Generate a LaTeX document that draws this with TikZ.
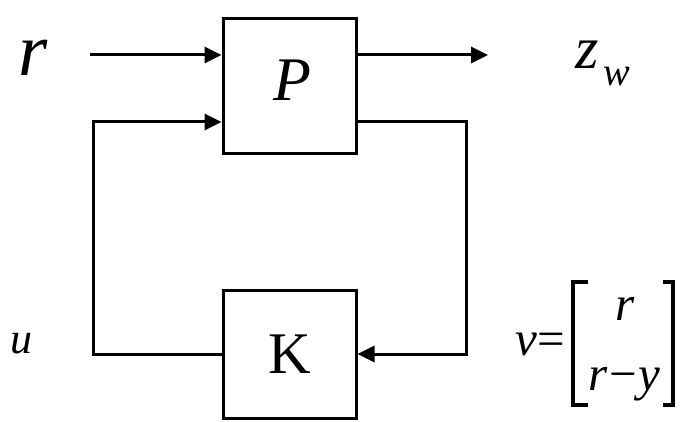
\documentclass[tikz,border=0pt]{standalone}
\usepackage{fontspec}
\setmainfont{Liberation Serif}
\usetikzlibrary{arrows.meta}
\tikzset{
  blk/.style={draw, line width=3pt, inner sep=0pt, minimum width=133pt},
  wire/.style={line width=3pt},
  arr/.style={wire, -{Triangle[length=17pt,width=16pt]}},
  lbl/.style={inner sep=0pt, anchor=base west},
  brk/.style={line width=3.5pt}
}
\newcommand{\fs}[1]{\fontsize{#1}{#1}\selectfont}
\begin{document}
\begin{tikzpicture}[x=1pt,y=-1pt]
\useasboundingbox (0,0) rectangle (685,422);
% blocks
\node[blk, minimum height=135pt] (P) at (289.5,86.5) {};
\node[inner sep=0pt] (Plbl) at (292,80) {\fs{62}\itshape P};
\node[blk, minimum height=128pt] (K) at (289.5,354) {\fs{59}K};
% coordinates
\coordinate (rin) at (90,55);
\coordinate (zout) at (488,55);
\coordinate (ul) at (93,122);
\coordinate (dl) at (93,354);
\coordinate (ur) at (466,122);
\coordinate (dr) at (466,354);
% connectors
\draw[arr] (rin) -- (rin -| P.west);
\draw[arr] (zout -| P.east) -- (zout);
\draw[arr] (K.west) -- (dl) -- (ul) -- (ul -| P.west);
\draw[arr] (ur -| P.east) -- (ur) -- (dr) -- (K.east);
% labels
\node[lbl] (r) at (18,76) {\fs{75}\itshape r};
\node[lbl] (z) at (575,69) {\fs{60}\itshape z};
\node[lbl] (w) at (603,86) {\fs{40}\itshape w};
\node[lbl] (u) at (10,353) {\fs{44}\itshape u};
\node[lbl] (v) at (515,355) {\fs{49}\itshape v\kern1pt\upshape=};
\node[lbl] (m1) at (615,320) {\fs{49}\itshape r};
\node[lbl] (m2) at (588,390) {\fs{49}\itshape r\kern2pt\upshape−\kern2pt\itshape y};
% brackets
\draw[brk] (588,282) -- (573,282) -- (573,405) -- (588,405);
\draw[brk] (663,282) -- (673,282) -- (673,405) -- (663,405);
\end{tikzpicture}
\end{document}
